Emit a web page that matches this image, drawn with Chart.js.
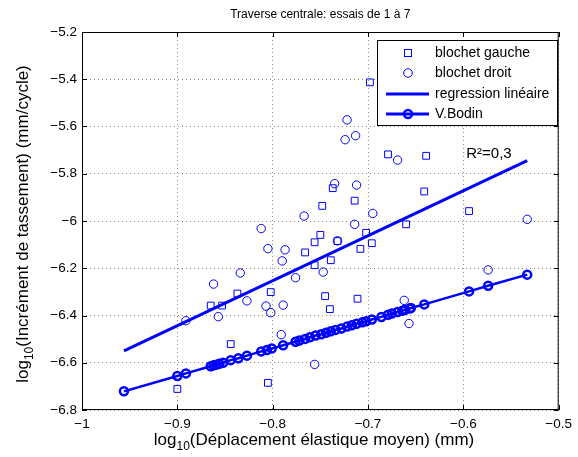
<!DOCTYPE html>
<html>
<head>
<meta charset="utf-8">
<title>Traverse centrale</title>
<script src="https://cdn.jsdelivr.net/npm/chart.js@4.4.1/dist/chart.umd.min.js"></script>
<style>
html, body { margin: 0; padding: 0; background: #fff; }
#wrap { width: 578px; height: 457px; }
</style>
</head>
<body>
<div id="wrap"><canvas id="chart" width="578" height="457"></canvas></div>
<script>
// values (log10 scale)
const gaucheX = [-0.698, -0.679, -0.639, -0.737, -0.748, -0.714, -0.641, -0.594, -0.660, -0.750,
    -0.756, -0.766, -0.756, -0.739, -0.702, -0.696, -0.708, -0.732, -0.745, -0.711,
    -0.740, -0.802, -0.837, -0.853, -0.865, -0.844, -0.805, -0.900];
const gaucheY = [-5.413, -5.718, -5.724, -5.861, -5.936, -5.914, -5.875, -5.958, -6.014, -6.059,
    -6.090, -6.133, -6.187, -6.166, -6.050, -6.094, -6.118, -6.085, -6.318, -6.329,
    -6.373, -6.301, -6.307, -6.358, -6.358, -6.521, -6.685, -6.711];

const droitX = [-0.722, -0.713, -0.724, -0.669, -0.735, -0.712, -0.767, -0.695, -0.714, -0.533,
    -0.812, -0.805, -0.787, -0.790, -0.776, -0.747, -0.732, -0.834, -0.862, -0.827,
    -0.807, -0.802, -0.789, -0.857, -0.891, -0.662, -0.657, -0.791, -0.756, -0.574];
const droitY = [-5.572, -5.639, -5.656, -5.742, -5.842, -5.848, -5.979, -5.968, -6.014, -5.993,
    -6.032, -6.117, -6.122, -6.169, -6.240, -6.216, -6.084, -6.220, -6.267, -6.338,
    -6.360, -6.388, -6.356, -6.405, -6.422, -6.336, -6.434, -6.481, -6.607, -6.207];

const regX = [-0.956, -0.533];
const regY = [-6.550, -5.744];

const bodinX = [-0.956, -0.900, -0.891, -0.865, -0.862, -0.859, -0.856, -0.852, -0.844, -0.836,
    -0.827, -0.812, -0.806, -0.801, -0.789, -0.776, -0.772, -0.766, -0.761, -0.755,
    -0.749, -0.744, -0.739, -0.734, -0.728, -0.722, -0.717, -0.712, -0.706, -0.702,
    -0.696, -0.686, -0.679, -0.675, -0.669, -0.664, -0.661, -0.656, -0.655, -0.641,
    -0.594, -0.574, -0.533];
const bodinY = [-6.721, -6.656, -6.645, -6.615, -6.611, -6.608, -6.604, -6.600, -6.589, -6.581,
    -6.570, -6.552, -6.546, -6.540, -6.526, -6.511, -6.506, -6.499, -6.492, -6.485,
    -6.479, -6.473, -6.467, -6.461, -6.455, -6.447, -6.441, -6.435, -6.429, -6.424,
    -6.417, -6.406, -6.397, -6.392, -6.385, -6.380, -6.376, -6.370, -6.368, -6.353,
    -6.298, -6.274, -6.227];

const xTicks = [-1, -0.9, -0.8, -0.7, -0.6, -0.5];
const yTicks = [-5.2, -5.4, -5.6, -5.8, -6, -6.2, -6.4, -6.6, -6.8];

const legendLabels = ['blochet gauche', 'blochet droit', 'regression linéaire', 'V.Bodin'];
const titleText = 'Traverse centrale: essais de 1 à 7';
const xLabelRest = '(Déplacement élastique moyen) (mm)';
const yLabelRest = '(Incrément de tassement) (mm/cycle)';
const r2Text = 'R²=0,3';

const FONT = '"Liberation Sans", Arial, Helvetica, sans-serif';
const BLUE = 'rgb(0,0,255)';

function pts(xs, ys) {
    return xs.map((x, i) => ({ x: x, y: ys[i] }));
}

// "log" + subscript "10" + rest, centred on the current origin
function drawLogLabel(ctx, rest, size) {
    const big = size + 'px ' + FONT;
    const small = Math.round(size * 0.7) + 'px ' + FONT;
    ctx.font = big;
    const w1 = ctx.measureText('log').width;
    const w3 = ctx.measureText(rest).width;
    ctx.font = small;
    const w2 = ctx.measureText('10').width;
    let x = -(w1 + w2 + w3) / 2;
    const base = size * 0.35;
    ctx.textAlign = 'left';
    ctx.textBaseline = 'alphabetic';
    ctx.font = big;
    ctx.fillText('log', x, base);
    x += w1;
    ctx.font = small;
    ctx.fillText('10', x, base + size * 0.28);
    x += w2;
    ctx.font = big;
    ctx.fillText(rest, x, base);
}

const decor = {
    id: 'decor',
    afterDraw(chart) {
        const ctx = chart.ctx;
        const a = chart.chartArea;
        const xs = chart.scales.x, ys = chart.scales.y;
        ctx.save();

        // axes box + inward ticks
        ctx.strokeStyle = '#000';
        ctx.lineWidth = 1;
        ctx.strokeRect(a.left + 0.5, a.top + 0.5, a.right - a.left - 1, a.bottom - a.top - 1);
        ctx.beginPath();
        xTicks.forEach(v => {
            const px = Math.round(xs.getPixelForValue(v)) + 0.5;
            ctx.moveTo(px, a.bottom); ctx.lineTo(px, a.bottom - 5);
            ctx.moveTo(px, a.top); ctx.lineTo(px, a.top + 5);
        });
        yTicks.forEach(v => {
            const py = Math.round(ys.getPixelForValue(v)) + 0.5;
            ctx.moveTo(a.left, py); ctx.lineTo(a.left + 5, py);
            ctx.moveTo(a.right, py); ctx.lineTo(a.right - 5, py);
        });
        ctx.stroke();

        // R² note
        ctx.fillStyle = '#000';
        ctx.font = '15px ' + FONT;
        ctx.textAlign = 'left';
        ctx.textBaseline = 'alphabetic';
        ctx.fillText(r2Text, xs.getPixelForValue(-0.597), ys.getPixelForValue(-5.733));

        // legend
        const lx = 377.5, ly = 40.5, lw = 180, lh = 85;
        ctx.fillStyle = '#fff';
        ctx.fillRect(lx, ly, lw, lh);
        ctx.strokeStyle = '#000';
        ctx.strokeRect(lx, ly, lw, lh);
        const rows = [53, 73, 94, 114];
        ctx.strokeStyle = BLUE;
        // square
        ctx.lineWidth = 1;
        ctx.strokeRect(404.5, rows[0] - 3.5, 7, 7);
        // circle
        ctx.beginPath();
        ctx.arc(408, rows[1], 4.3, 0, Math.PI * 2);
        ctx.stroke();
        // regression line
        ctx.lineWidth = 3;
        ctx.beginPath();
        ctx.moveTo(386, rows[2]); ctx.lineTo(429, rows[2]);
        ctx.stroke();
        // V.Bodin line + marker
        ctx.beginPath();
        ctx.moveTo(386, rows[3]); ctx.lineTo(429, rows[3]);
        ctx.stroke();
        ctx.lineWidth = 2.5;
        ctx.beginPath();
        ctx.arc(408, rows[3], 4, 0, Math.PI * 2);
        ctx.stroke();
        ctx.fillStyle = '#000';
        ctx.font = '14px ' + FONT;
        ctx.textBaseline = 'middle';
        legendLabels.forEach((t, i) => ctx.fillText(t, 435, rows[i]));

        // title
        ctx.font = '12px ' + FONT;
        ctx.textAlign = 'center';
        ctx.fillText(titleText, (a.left + a.right) / 2, 15);

        // axis titles
        ctx.save();
        ctx.translate(314, 439);
        drawLogLabel(ctx, xLabelRest, 17);
        ctx.restore();
        ctx.save();
        ctx.translate(22, (a.top + a.bottom) / 2 + 3);
        ctx.rotate(-Math.PI / 2);
        drawLogLabel(ctx, yLabelRest, 17);
        ctx.restore();

        ctx.restore();
    }
};

// MATLAB-style labels: true minus sign, no trailing zeros
const fmt = v => String(Math.round(v * 10) / 10).replace('-', '\u2212');

const gridOpts = { color: '#8a8a8a', drawTicks: false, tickLength: 0 };
const borderOpts = { display: false, dash: [1, 3] };

new Chart(document.getElementById('chart'), {
    type: 'scatter',
    data: {
        datasets: [
            {
                label: legendLabels[3],
                data: pts(bodinX, bodinY),
                showLine: true,
                borderColor: BLUE,
                borderWidth: 2.5,
                backgroundColor: 'rgba(0,0,0,0)',
                pointStyle: 'circle',
                pointRadius: 4,
                pointBorderWidth: 2.5,
                pointBorderColor: BLUE,
                order: 0
            },
            {
                label: legendLabels[2],
                data: pts(regX, regY),
                showLine: true,
                borderColor: BLUE,
                borderWidth: 3,
                pointRadius: 0,
                order: 1
            },
            {
                label: legendLabels[1],
                data: pts(droitX, droitY),
                pointStyle: 'circle',
                pointRadius: 4.2,
                borderWidth: 1,
                borderColor: BLUE,
                backgroundColor: 'rgba(0,0,0,0)',
                order: 2
            },
            {
                label: legendLabels[0],
                data: pts(gaucheX, gaucheY),
                pointStyle: 'rect',
                pointRadius: 4.8,
                borderWidth: 1,
                borderColor: BLUE,
                backgroundColor: 'rgba(0,0,0,0)',
                order: 3
            }
        ]
    },
    options: {
        responsive: false,
        animation: false,
        devicePixelRatio: 1,
        layout: { padding: { left: 0, top: 32, right: 19, bottom: 0 } },
        plugins: {
            legend: { display: false },
            tooltip: { enabled: false },
            title: { display: false }
        },
        scales: {
            x: {
                type: 'linear',
                min: -1,
                max: -0.5,
                afterBuildTicks: s => { s.ticks = xTicks.map(v => ({ value: v })); },
                afterFit: s => { s.height = 47; },
                grid: gridOpts,
                border: borderOpts,
                ticks: {
                    callback: fmt,
                    color: '#000',
                    padding: 6,
                    maxRotation: 0,
                    font: { family: FONT, size: 13.5 }
                }
            },
            y: {
                type: 'linear',
                min: -6.8,
                max: -5.2,
                afterBuildTicks: s => { s.ticks = yTicks.map(v => ({ value: v })); },
                afterFit: s => { s.width = 82; },
                grid: gridOpts,
                border: borderOpts,
                ticks: {
                    callback: fmt,
                    color: '#000',
                    padding: 5,
                    font: { family: FONT, size: 13.5 }
                }
            }
        }
    },
    plugins: [decor]
});
</script>
</body>
</html>
